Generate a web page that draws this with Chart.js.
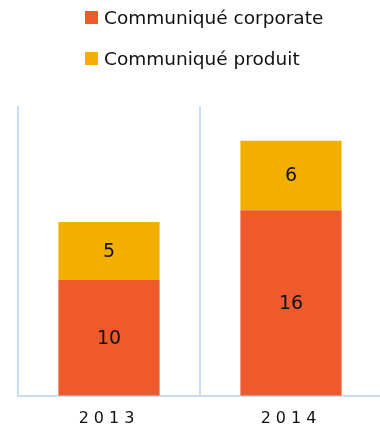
<!DOCTYPE html>
<html>
<head>
<meta charset="utf-8">
<script src="https://cdn.jsdelivr.net/npm/chart.js@4.4.1/dist/chart.umd.min.js"></script>
<style>
  html, body { margin: 0; padding: 0; background: #fff; overflow: hidden; width: 380px; height: 430px; }
  #wrap { position: absolute; left: 0; top: 0; width: 384px; height: 445px; }
  #legend { position: absolute; left: 85px; top: 0; font-family: "DejaVu Sans", sans-serif; font-size: 18.5px; color: #111; }
  .item { position: absolute; left: 0; white-space: nowrap; display: flex; align-items: center; }
  .box { width: 13px; height: 13px; margin-right: 6px; }
</style>
</head>
<body>
<div id="wrap"><canvas id="chart"></canvas></div>
<div id="legend"></div>
<script>
// chart data
const years = ['2013', '2014'];
const corporate = [10, 16];
const produit = [5, 6];
const seriesNames = ['Communiqué corporate', 'Communiqué produit'];
const seriesColors = ['#EE5A2C', '#F2AF00'];

const gridBlue = '#C9DDF8';

// html legend, both rows left aligned
const legendEl = document.getElementById('legend');
seriesNames.forEach((name, i) => {
    const row = document.createElement('div');
    row.className = 'item';
    row.style.top = (i === 0 ? 7 : 48) + 'px';
    row.innerHTML = `<span class="box" style="background:${seriesColors[i]}"></span><span>${name}</span>`;
    legendEl.appendChild(row);
});

// values in the middle of each segment
const barValues = {
    id: 'barValues',
    afterDatasetsDraw(chart) {
        const ctx = chart.ctx;
        ctx.save();
        ctx.letterSpacing = '0px';
        ctx.font = '19px "DejaVu Sans", sans-serif';
        ctx.fillStyle = '#111';
        ctx.textAlign = 'center';
        ctx.textBaseline = 'middle';
        chart.data.datasets.forEach((ds, di) => {
            chart.getDatasetMeta(di).data.forEach((bar, i) => {
                const p = bar.getProps(['x', 'y', 'base'], true);
                ctx.fillText(ds.data[i], p.x, (p.y + p.base) / 2 + 1);
            });
        });
        ctx.restore();
    }
};

// spaced out year labels
const tickSpacing = {
    id: 'tickSpacing',
    beforeDraw(chart) { chart.ctx.letterSpacing = '5px'; },
    beforeDatasetsDraw(chart) { chart.ctx.letterSpacing = '0px'; }
};

new Chart(document.getElementById('chart'), {
    type: 'bar',
    data: {
        labels: years,
        datasets: [
            { label: seriesNames[0], data: corporate, backgroundColor: seriesColors[0] },
            { label: seriesNames[1], data: produit, backgroundColor: seriesColors[1] }
        ]
    },
    options: {
        responsive: true,
        maintainAspectRatio: false,
        animation: false,
        layout: { padding: { left: 18, right: 2, top: 106, bottom: 4 } },
        plugins: {
            legend: { display: false },
            tooltip: { enabled: false }
        },
        datasets: {
            bar: { categoryPercentage: 1, barPercentage: 0.556 }
        },
        scales: {
            x: {
                stacked: true,
                grid: { offset: true, color: gridBlue, lineWidth: 2, drawTicks: false },
                border: { color: gridBlue, width: 2 },
                ticks: {
                    color: '#111',
                    padding: 13,
                    font: { family: '"DejaVu Sans", sans-serif', size: 16 }
                }
            },
            y: {
                stacked: true,
                display: false,
                min: 0,
                max: 25
            }
        }
    },
    plugins: [barValues, tickSpacing]
});
</script>
</body>
</html>
